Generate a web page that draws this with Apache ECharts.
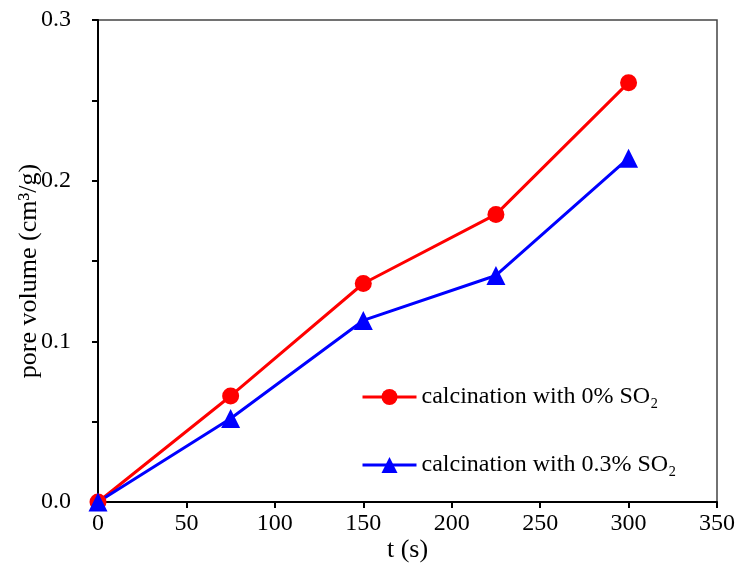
<!DOCTYPE html>
<html><head><meta charset="utf-8">
<script src="https://cdn.jsdelivr.net/npm/echarts@6/dist/echarts.min.js"></script>
<style>html,body{margin:0;padding:0;background:#fff}#c{width:740px;height:569px}</style>
</head><body><div id="c"></div>
<script>
const times = [0, 75, 150, 225, 300];
const so2_0 = [0, 0.066, 0.136, 0.179, 0.261];
const so2_03 = [0, 0.052, 0.113, 0.141, 0.214];
const seriesNames = ['calcination with 0% SO\u2082', 'calcination with 0.3% SO\u2082'];
const xLabel = 't (s)';
const yLabel = 'pore volume (cm\u00b3/g)';

const font = '"Liberation Serif", "Times New Roman", serif';
const chart = echarts.init(document.getElementById('c'));
chart.setOption({
  animation: false,
  grid: {left: 98, right: 23, top: 20, bottom: 67, show: true, borderColor: '#444', borderWidth: 1.5,
         containLabel: false, outerBoundsMode: 'none'},
  legend: {
    orient: 'vertical', left: 356, top: 380, itemGap: 44, itemWidth: 54, itemHeight: 20,
    lineStyle: {width: 3},
    textStyle: {fontFamily: font, fontSize: 24, color: '#000'},
    data: seriesNames
  },
  xAxis: {
    type: 'value', min: 0, max: 350, interval: 50,
    name: xLabel, nameLocation: 'middle', nameGap: 35, nameMoveOverlap: false,
    nameTextStyle: {fontFamily: font, fontSize: 26, color: '#000'},
    axisLine: {onZero: false, lineStyle: {color: '#000', width: 2}},
    axisTick: {show: true, inside: false, length: 6, lineStyle: {color: '#000', width: 2}},
    axisLabel: {fontFamily: font, fontSize: 24, color: '#000', margin: 10},
    splitLine: {show: false}
  },
  yAxis: {
    type: 'value', min: 0, max: 0.3, interval: 0.1,
    name: yLabel, nameLocation: 'middle', nameGap: 56, nameMoveOverlap: false,
    nameTextStyle: {fontFamily: font, fontSize: 26, color: '#000', padding: [0, 20, 0, 0]},
    axisLine: {onZero: false, lineStyle: {color: '#000', width: 2}},
    axisTick: {show: true, length: 6, lineStyle: {color: '#000', width: 2}},
    minorTick: {show: true, splitNumber: 2, length: 6, lineStyle: {color: '#000', width: 2}},
    axisLabel: {fontFamily: font, fontSize: 24, color: '#000', margin: 27, formatter: v => v.toFixed(1)},
    splitLine: {show: false}
  },
  series: [
    {name: seriesNames[0], type: 'line', data: times.map((t,i)=>[t, so2_0[i]]),
     symbol: 'circle', symbolSize: 17, lineStyle: {color: '#ff0000', width: 3},
     itemStyle: {color: '#ff0000'}},
    {name: seriesNames[1], type: 'line', data: times.map((t,i)=>[t, so2_03[i]]),
     symbol: 'triangle', symbolSize: 19, lineStyle: {color: '#0000ff', width: 3},
     itemStyle: {color: '#0000ff'}}
  ]
});
</script></body></html>
